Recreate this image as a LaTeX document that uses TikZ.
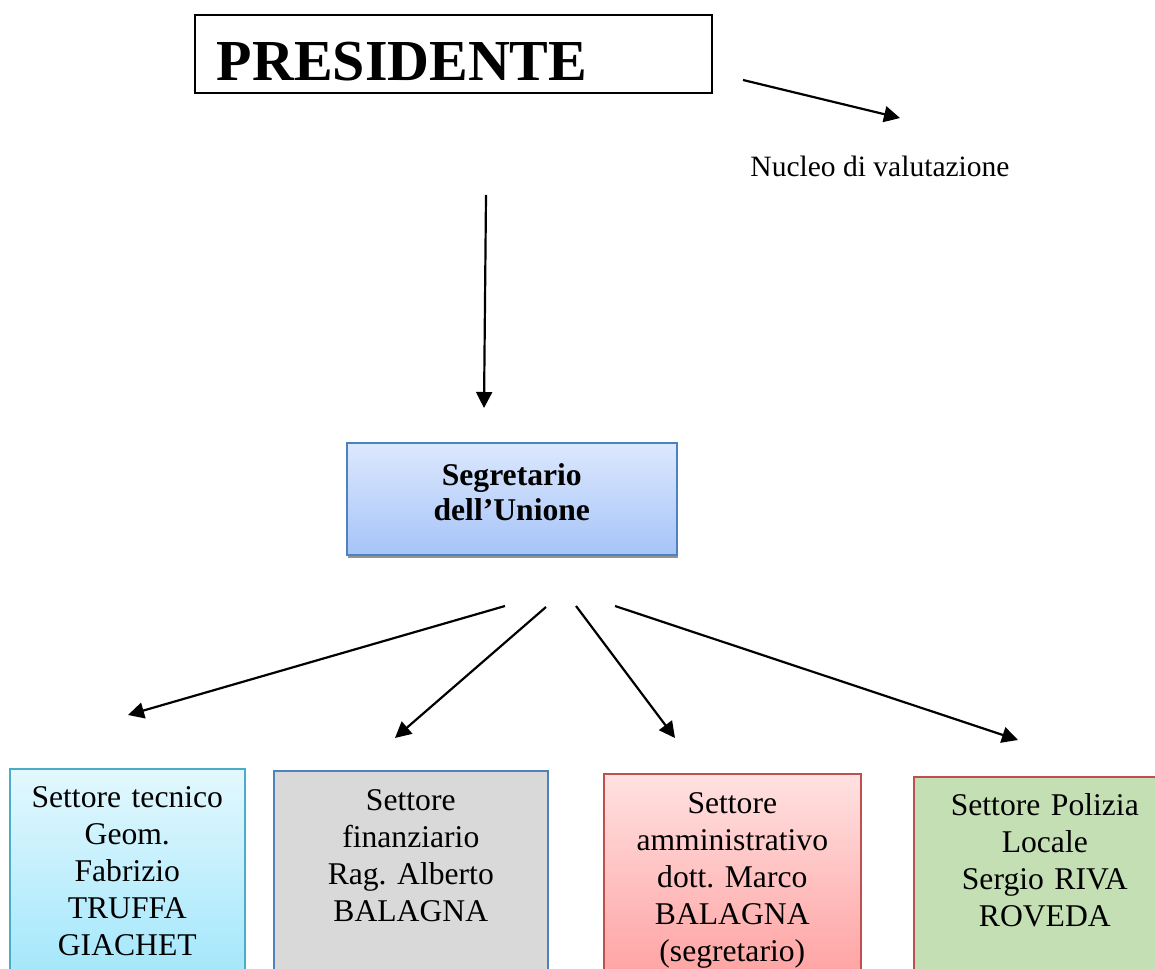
\documentclass[tikz,border=0pt]{standalone}
\usepackage{fontspec}
\setmainfont{Liberation Serif}
\usepackage{tikz}
\usepackage{xcolor}
\usetikzlibrary{arrows.meta, positioning, shadows}

\definecolor{segtop}{HTML}{DCE8FD}
\definecolor{segbot}{HTML}{A6C4F8}
\definecolor{segline}{HTML}{4F81BD}
\definecolor{tectop}{HTML}{E3F8FE}
\definecolor{tecbot}{HTML}{A0E6FB}
\definecolor{tecline}{HTML}{4BACC6}
\definecolor{finfill}{HTML}{D9D9D9}
\definecolor{ammtop}{HTML}{FFE1E1}
\definecolor{ammbot}{HTML}{FFA0A0}
\definecolor{redline}{HTML}{C0504D}
\definecolor{polfill}{HTML}{C4DFB4}

\begin{document}
\frenchspacing
\begin{tikzpicture}[
		every node/.style={font=\fontsize{18}{21}\selectfont},
		freccia/.style={line width=1.25pt, -{Triangle[length=0.32cm, width=0.32cm]}},
		settore/.style={draw, line width=0.9pt, anchor=north west, align=center, inner xsep=0pt, inner ysep=0pt},
	]
		\useasboundingbox (0,0) rectangle (23.1,-19.38);

		\node[draw, line width=0.9pt, anchor=north west, align=left, inner xsep=0.44cm, inner ysep=0pt,
			text width=9.46cm, text height=1.32cm, text depth=0.24cm,
			font=\fontsize{33}{36}\selectfont\bfseries] (pres) at (3.88,-0.28) {PRESIDENTE};
		\node[anchor=base, font=\fontsize{16.8}{20}\selectfont] (nucleo) at (17.6,-3.54) {Nucleo di valutazione};

		\node[draw=segline, line width=0.9pt, top color=segtop, bottom color=segbot, anchor=north west,
			align=center, inner sep=0pt, text width=6.6cm, text height=0.86cm, text depth=1.38cm,
			drop shadow={shadow xshift=0.03cm, shadow yshift=-0.07cm, fill=gray!85, opacity=1},
			font=\fontsize{18}{20}\selectfont\bfseries] (seg) at (6.92,-8.84) {Segretario\\dell'Unione};

		% Settori
		\node[settore, draw=tecline, top color=tectop, bottom color=tecbot, text width=4.7cm,
			text height=0.78cm, text depth=3.56cm] (tec) at (0.18,-15.36)
			{Settore tecnico\\Geom.\\Fabrizio\\TRUFFA\\GIACHET};
		\node[settore, draw=segline, fill=finfill, text width=5.48cm,
			text height=0.8cm, text depth=3.5cm] (fin) at (5.46,-15.40)
			{Settore\\finanziario\\Rag. Alberto\\BALAGNA};
		\node[settore, draw=redline, top color=ammtop, bottom color=ammbot, text width=5.14cm,
			text height=0.8cm, text depth=3.44cm] (amm) at (12.06,-15.46)
			{Settore\\amministrativo\\dott. Marco\\BALAGNA\\(segretario)};
		\node[settore, draw=redline, fill=polfill, text width=5.24cm,
			text height=0.78cm, text depth=3.4cm] (pol) at (18.26,-15.52)
			{Settore Polizia\\Locale\\Sergio RIVA\\ROVEDA};

		% Arrow ends
		\coordinate (pres-a) at (14.86,-1.60);
		\coordinate (nucleo-a) at (18.0,-2.36);
		\coordinate (pres-b) at (9.72,-3.90);
		\coordinate (seg-a) at (9.68,-8.16);
		\coordinate (seg-tec) at (10.10,-12.12);
		\coordinate (seg-fin) at (10.92,-12.14);
		\coordinate (seg-amm) at (11.52,-12.12);
		\coordinate (seg-pol) at (12.30,-12.12);
		\coordinate (tec-a) at (2.56,-14.30);
		\coordinate (fin-a) at (7.90,-14.76);
		\coordinate (amm-a) at (13.50,-14.76);
		\coordinate (pol-a) at (20.36,-14.80);

		\draw[freccia] (pres-a) -- (nucleo-a);
		\draw[freccia] (pres-b) -- (seg-a);
		\draw[freccia] (seg-tec) -- (tec-a);
		\draw[freccia] (seg-fin) -- (fin-a);
		\draw[freccia] (seg-amm) -- (amm-a);
		\draw[freccia] (seg-pol) -- (pol-a);
	\end{tikzpicture}
\end{document}
